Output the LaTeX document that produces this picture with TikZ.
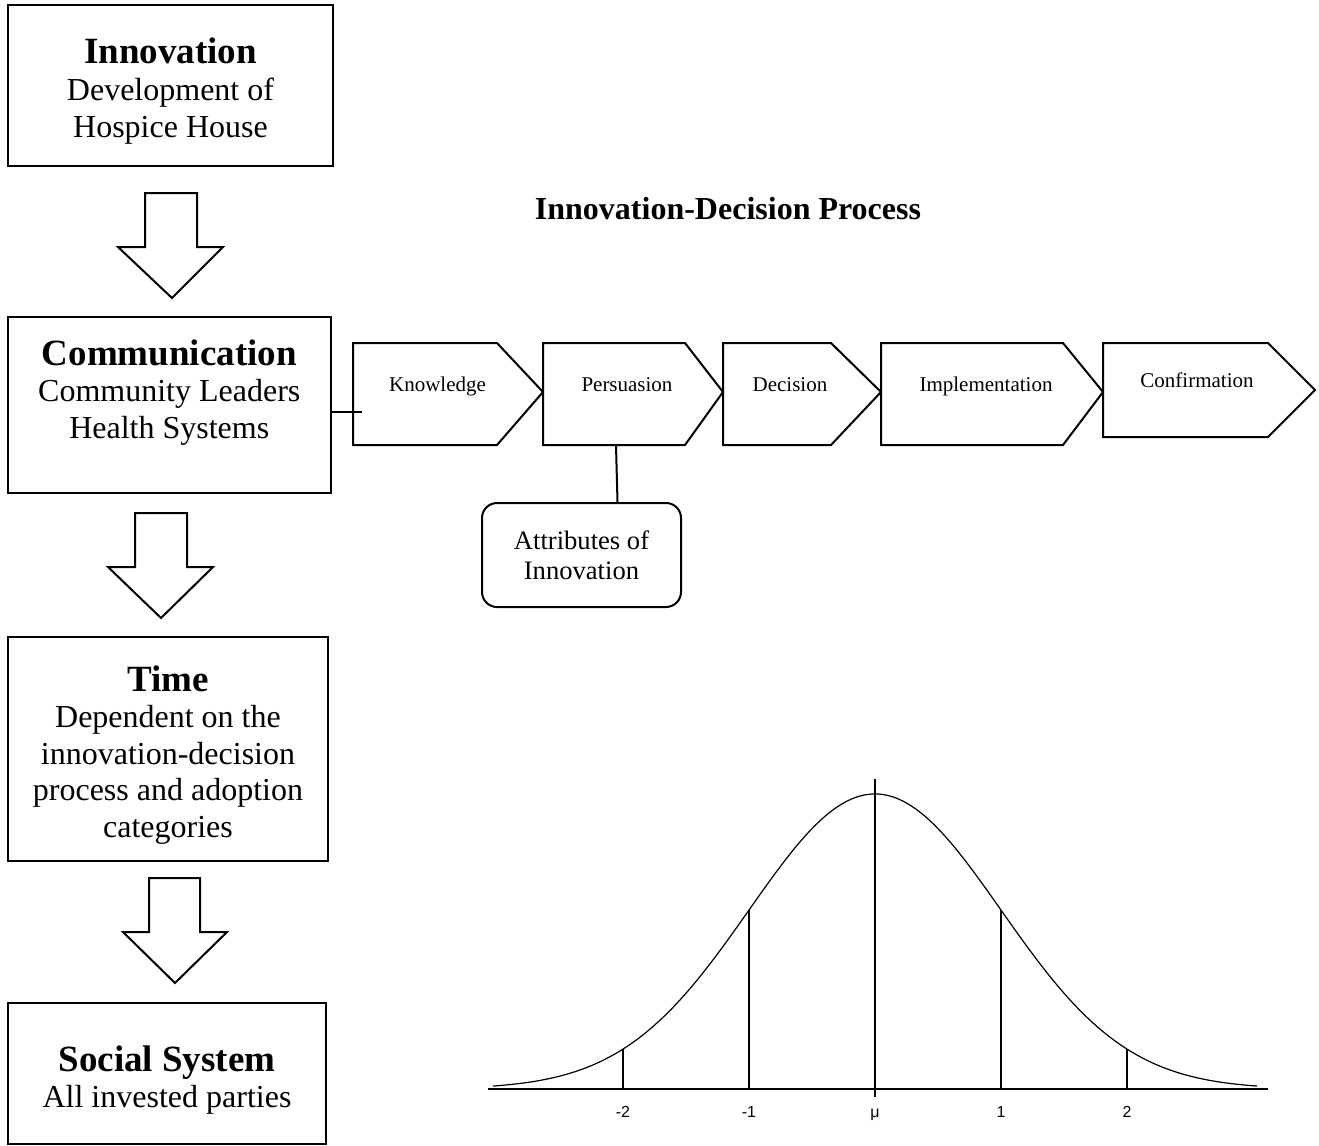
\documentclass[tikz,border=0pt]{standalone}
\usepackage{fontspec}
\setmainfont{Liberation Serif}
\newfontfamily\bellfont{Liberation Sans}
\usepackage{tikz}

\tikzset{
	box/.style={draw, line width=1pt, rectangle, inner sep=0pt},
	boxtext/.style={align=center, inner sep=0pt, font=\fontsize{16}{18.3}\selectfont},
	chev/.style={draw, line width=1pt, line join=miter},
	chevlabel/.style={anchor=base, inner sep=0pt, font=\fontsize{10.5}{12}\selectfont},
	blockarrow/.style={draw, line width=1pt, line join=miter},
	link/.style={line width=1pt},
}

\begin{document}
\begin{tikzpicture}[x=0.5pt, y=-0.5pt]
	
	\useasboundingbox (0,0) rectangle (1319,1146);
	
	% left column
	\node[box, minimum width=162.5pt, minimum height=80.5pt] (inno) at (170.5,85.5) {};
	\node[boxtext] (inno-t) at (170.5,91) {{\fontsize{18.5}{18.3}\selectfont\bfseries Innovation}\\Development of\\Hospice House};
	
	\node[box, minimum width=161.75pt, minimum height=88pt] (comm) at (169.25,405) {};
	\node[boxtext] (comm-t) at (169.25,392.5) {{\fontsize{18.5}{18.3}\selectfont\bfseries Communication}\\Community Leaders\\Health Systems};
	
	\node[box, minimum width=160pt, minimum height=112pt] (time) at (168,749) {};
	\node[boxtext] (time-t) at (168,755) {{\fontsize{18.5}{18.3}\selectfont\bfseries Time}\\Dependent on the\\innovation-decision\\process and adoption\\categories};
	
	\node[box, minimum width=159pt, minimum height=70.5pt] (soc) at (167,1073.5) {};
	\node[boxtext] (soc-t) at (167,1080) {{\fontsize{18.5}{18.3}\selectfont\bfseries Social System}\\All invested parties};
	
	\draw[blockarrow] (145,193) -- (197,193) -- (197,247) -- (223,247) -- (172,298) -- (118,247) -- (145,247) -- cycle;
	\draw[blockarrow] (135,513) -- (187,513) -- (187,567) -- (213,567) -- (161,618) -- (108,567) -- (135,567) -- cycle;
	\draw[blockarrow] (149,878) -- (200,878) -- (200,932) -- (227,932) -- (175,983) -- (123,932) -- (149,932) -- cycle;
	
	% process
	\node[font=\fontsize{16}{18}\selectfont\bfseries] (title) at (728,209) {Innovation-Decision Process};
	
	\draw[chev] (353,343) -- (497,343) -- (543,392) -- (497,445) -- (353,445) -- cycle;
	\draw[chev] (543,343) -- (685,343) -- (723,392) -- (685,445) -- (543,445) -- cycle;
	\draw[chev] (723,343) -- (831,343) -- (881,392) -- (831,445) -- (723,445) -- cycle;
	\draw[chev] (881,343) -- (1063,343) -- (1103,392) -- (1063,445) -- (881,445) -- cycle;
	\draw[chev] (1103,343) -- (1268,343) -- (1315,390) -- (1268,437) -- (1103,437) -- cycle;
	
	\node[chevlabel] (know) at (437.5,391) {Knowledge};
	\node[chevlabel] (pers) at (627,391) {Persuasion};
	\node[chevlabel] (deci) at (790,391) {Decision};
	\node[chevlabel] (impl) at (986,391) {Implementation};
	\node[chevlabel] (conf) at (1197,387) {Confirmation};
	
	\coordinate (know-in) at (362,412);
	\coordinate (pers-bot) at (616,445);
	\draw[link] (comm.east |- know-in) -- (know-in);
	
	\node[box, rounded corners=7.5pt, minimum width=99.5pt, minimum height=52pt, align=center, font=\fontsize{13.3}{15}\selectfont] (attr) at (581.5,555) {Attributes of\\Innovation};
	\draw[link] (pers-bot) -- ([xshift=18pt]attr.north);
	
	% bell curve
	\draw[line width=0.6pt] plot[domain=493:1257, samples=150, smooth] (\x, {1089-295*exp(-0.5*((\x-875)/126)^2)});
	\draw[line width=1pt] (488,1089) -- (1268,1089);
	\draw[line width=0.8pt] (875,1097) -- (875,779);
	\foreach \k in {-2,-1,1,2}
		\draw[line width=0.8pt] (875+126*\k,1089) -- (875+126*\k, {1089-295*exp(-0.5*(\k)*(\k))});
	\foreach \k/\t in {-2/-2,-1/-1,0/μ,1/1,2/2}
		\node[anchor=base, inner sep=0pt, font=\bellfont\fontsize{8}{9}\selectfont] (lab\k) at (875+126*\k,1117) {\t};
	
\end{tikzpicture}
\end{document}
